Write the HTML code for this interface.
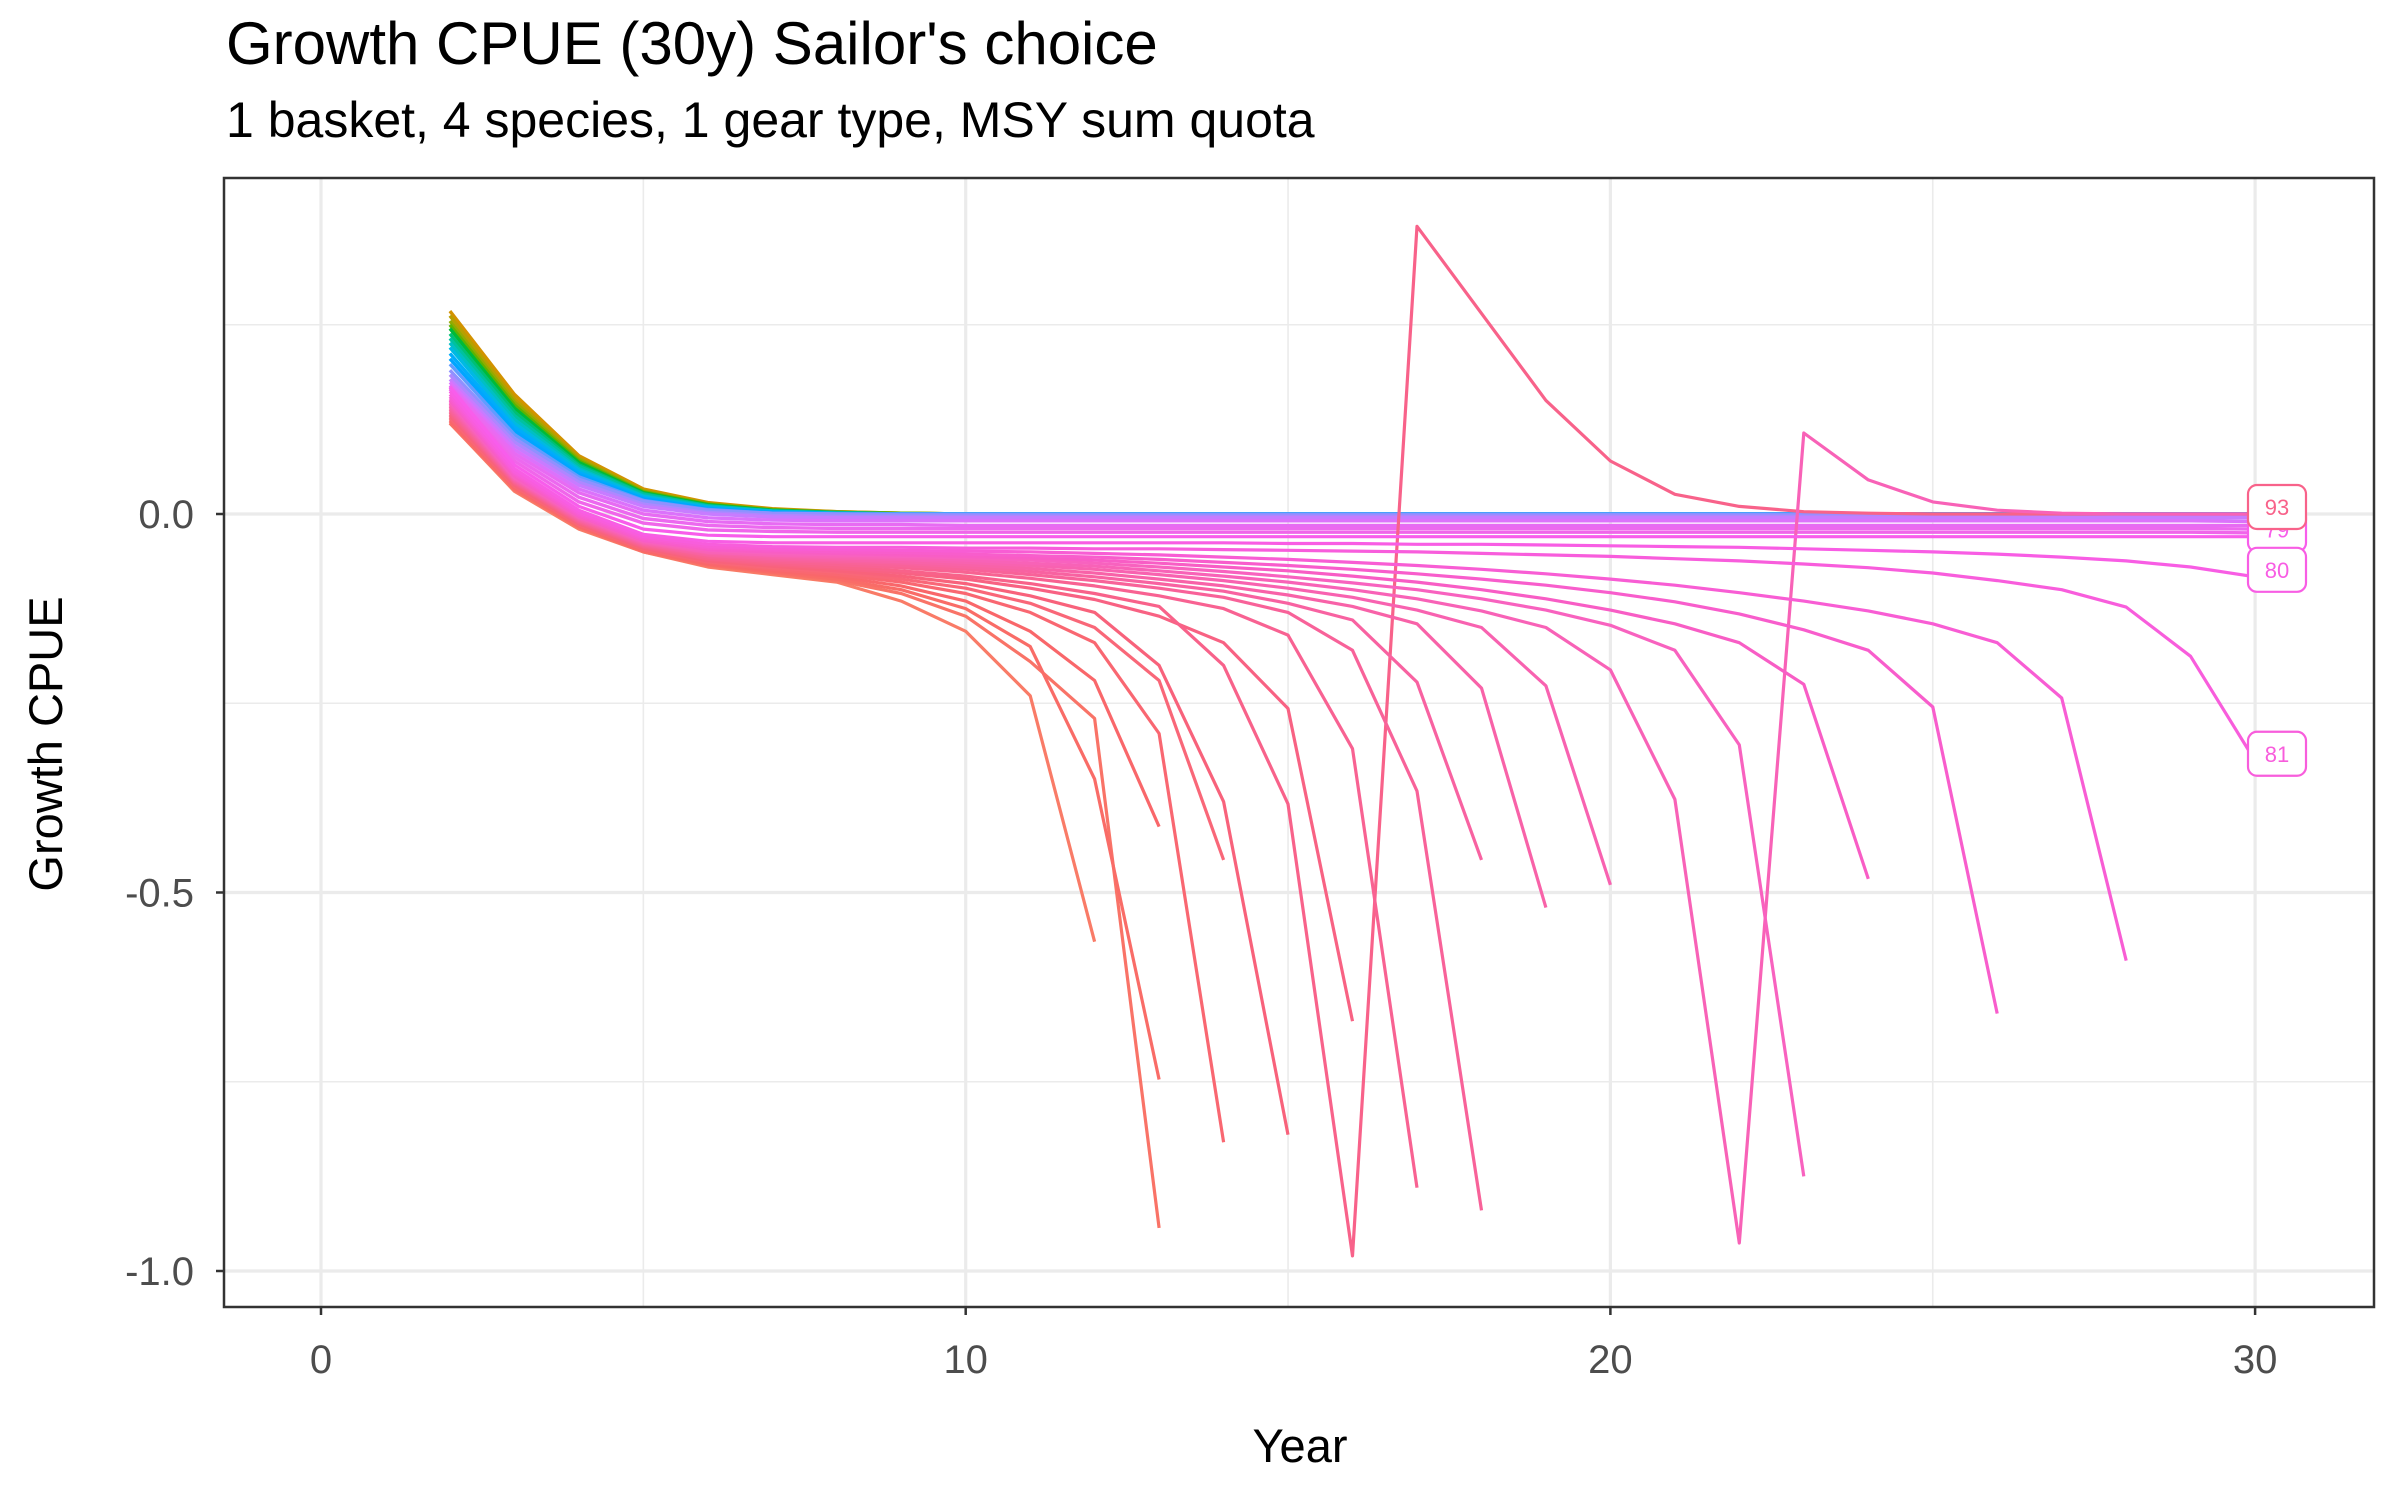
<!DOCTYPE html>
<html><head><meta charset="utf-8"><style>
html,body{margin:0;padding:0;background:#fff;}
svg{display:block;font-family:"Liberation Sans",Arial,sans-serif;}
</style></head><body>
<svg id="chart" width="2400" height="1500" viewBox="0 0 2400 1500">
<text x="226" y="64" font-size="60" fill="#000">Growth CPUE (30y) Sailor's choice</text>
<text x="226" y="137" font-size="50" fill="#000">1 basket, 4 species, 1 gear type, MSY sum quota</text>
<rect x="224" y="178" width="2150" height="1129" fill="#fff"/>
<g id="grid"></g>
<g id="series"></g>
<g id="labels"></g>
<rect x="224" y="178" width="2150" height="1129" fill="none" stroke="#333" stroke-width="2.5"/>
<g id="axes"></g>
<text x="1300" y="1462" font-size="47" text-anchor="middle" fill="#000">Year</text>
<text x="62" y="744" font-size="47" text-anchor="middle" fill="#000" transform="rotate(-90 62 744)">Growth CPUE</text>
</svg>
<script>
const xTicks = [0, 10, 20, 30];
const xTickLabels = ['0', '10', '20', '30'];
const xMinor = [5, 15, 25];
const yTicks = [0, -0.5, -1];
const yTickLabels = ['0.0', '-0.5', '-1.0'];
const yMinor = [0.25, -0.25, -0.75];
const startYear = 2;

// near-zero series (years 2..30)
const nearZeroValues = [
 [0.268,0.158,0.077,0.033,0.015,0.007,0.003,0.001,0,0,0,0,0,0,0,0,0,0,0,0,0,0,0,0,0,0,0,0,0],
 [0.262,0.152,0.074,0.031,0.014,0.006,0.003,0.001,0,0,0,0,0,0,0,0,0,0,0,0,0,0,0,0,0,0,0,0,0],
 [0.255,0.148,0.072,0.030,0.013,0.006,0.002,0.001,0,0,0,0,0,0,0,0,0,0,0,0,0,0,0,0,0,0,0,0,0],
 [0.250,0.144,0.070,0.029,0.013,0.005,0.002,0.001,0,0,0,0,0,0,0,0,0,0,0,0,0,0,0,0,0,0,0,0,0],
 [0.245,0.140,0.068,0.028,0.012,0.005,0.002,0,0,0,0,0,0,0,0,0,0,0,0,0,0,0,0,0,0,0,0,0,0],
 [0.238,0.135,0.065,0.027,0.011,0.004,0.002,0,0,0,0,0,0,0,0,0,0,0,0,0,0,0,0,0,0,0,0,0,0],
 [0.232,0.130,0.063,0.026,0.011,0.004,0.001,0,0,0,0,0,0,0,0,0,0,0,0,0,0,0,0,0,0,0,0,0,0],
 [0.226,0.125,0.060,0.024,0.010,0.004,0.001,0,0,0,0,0,0,0,0,0,0,0,0,0,0,0,0,0,0,0,0,0,0],
 [0.220,0.120,0.058,0.023,0.009,0.003,0.001,0,0,0,0,0,0,0,0,0,0,0,0,0,0,0,0,0,0,0,0,0,0],
 [0.212,0.115,0.055,0.021,0.008,0.003,0,0,0,0,0,0,0,0,0,0,0,0,0,0,0,0,0,0,0,0,0,0,0],
 [0.205,0.110,0.052,0.020,0.007,0.002,0,0,0,0,0,0,0,0,0,0,0,0,0,0,0,0,0,0,0,0,0,0,0],
 [0.198,0.105,0.049,0.018,0.006,0.001,0,0,0,0,0,0,0,0,0,0,0,0,0,0,0,0,0,0,0,0,0,0,0],
 [0.190,0.100,0.046,0.017,0.005,0.001,0,-0.001,-0.001,-0.001,-0.001,-0.001,-0.001,-0.001,-0.001,-0.001,-0.001,-0.001,-0.001,-0.001,-0.001,-0.001,-0.001,-0.001,-0.001,-0.001,-0.001,-0.001,-0.001],
 [0.184,0.095,0.042,0.013,0.002,-0.002,-0.003,-0.003,-0.003,-0.003,-0.003,-0.003,-0.003,-0.003,-0.003,-0.003,-0.003,-0.003,-0.003,-0.003,-0.003,-0.003,-0.003,-0.003,-0.003,-0.003,-0.003,-0.003,-0.003],
 [0.178,0.090,0.038,0.010,0,-0.004,-0.005,-0.005,-0.005,-0.005,-0.005,-0.005,-0.005,-0.005,-0.005,-0.005,-0.005,-0.005,-0.005,-0.005,-0.005,-0.005,-0.005,-0.005,-0.005,-0.005,-0.005,-0.005,-0.005],
 [0.174,0.085,0.033,0.005,-0.005,-0.008,-0.009,-0.009,-0.009,-0.009,-0.009,-0.009,-0.009,-0.009,-0.009,-0.009,-0.009,-0.009,-0.009,-0.009,-0.009,-0.009,-0.009,-0.009,-0.009,-0.009,-0.009,-0.009,-0.010],
 [0.170,0.080,0.028,0,-0.010,-0.013,-0.014,-0.014,-0.015,-0.015,-0.015,-0.015,-0.015,-0.015,-0.015,-0.015,-0.015,-0.015,-0.015,-0.015,-0.015,-0.015,-0.015,-0.015,-0.015,-0.015,-0.015,-0.015,-0.015],
 [0.167,0.075,0.022,-0.006,-0.015,-0.018,-0.019,-0.019,-0.019,-0.019,-0.019,-0.019,-0.019,-0.019,-0.019,-0.019,-0.019,-0.019,-0.019,-0.019,-0.019,-0.019,-0.019,-0.019,-0.019,-0.019,-0.019,-0.019,-0.020],
 [0.165,0.070,0.016,-0.012,-0.021,-0.023,-0.024,-0.024,-0.024,-0.024,-0.024,-0.024,-0.024,-0.024,-0.024,-0.024,-0.024,-0.024,-0.024,-0.024,-0.024,-0.024,-0.024,-0.024,-0.024,-0.024,-0.024,-0.024,-0.025]
];
const nearZeroColors = ['#D39200','#B79F00','#93AA00','#5EB300','#00BA38','#00BF74','#00C19F','#00BFC4','#00B9E3','#00ADFA','#00A5FF','#619CFF','#8F91FF','#AE87FF','#C77CFF','#DB72FB','#E76BF3','#EC69EF','#F066EA'];

// crashing / declining series (years 2..end)
const crashValues = [
 [0.12,0.03,-0.02,-0.05,-0.07,-0.08,-0.09,-0.115,-0.155,-0.24,-0.565],
 [0.12,0.032,-0.018,-0.05,-0.068,-0.078,-0.088,-0.105,-0.135,-0.195,-0.27,-0.943],
 [0.122,0.033,-0.017,-0.049,-0.067,-0.077,-0.086,-0.1,-0.125,-0.175,-0.35,-0.747],
 [0.124,0.035,-0.016,-0.048,-0.066,-0.075,-0.083,-0.095,-0.115,-0.155,-0.22,-0.413],
 [0.126,0.036,-0.015,-0.047,-0.064,-0.073,-0.08,-0.09,-0.105,-0.13,-0.17,-0.29,-0.83],
 [0.128,0.037,-0.014,-0.046,-0.063,-0.071,-0.077,-0.086,-0.098,-0.118,-0.15,-0.22,-0.457],
 [0.13,0.038,-0.013,-0.045,-0.062,-0.069,-0.075,-0.082,-0.092,-0.108,-0.13,-0.2,-0.38,-0.82],
 [0.132,0.04,-0.012,-0.044,-0.06,-0.067,-0.072,-0.078,-0.086,-0.098,-0.113,-0.135,-0.17,-0.257,-0.67],
 [0.134,0.041,-0.011,-0.043,-0.059,-0.065,-0.07,-0.075,-0.082,-0.092,-0.105,-0.122,-0.2,-0.383,-0.98,0.38,0.265,0.15,0.07,0.026,0.01,0.003,0.001,0,0,0,0,0,0],
 [0.136,0.042,-0.01,-0.042,-0.057,-0.063,-0.067,-0.071,-0.077,-0.085,-0.095,-0.108,-0.125,-0.16,-0.31,-0.89],
 [0.138,0.043,-0.009,-0.041,-0.055,-0.061,-0.064,-0.068,-0.073,-0.08,-0.088,-0.098,-0.11,-0.13,-0.18,-0.366,-0.92],
 [0.14,0.044,-0.008,-0.04,-0.054,-0.059,-0.062,-0.065,-0.07,-0.076,-0.083,-0.092,-0.102,-0.118,-0.14,-0.222,-0.457],
 [0.142,0.045,-0.007,-0.039,-0.052,-0.057,-0.06,-0.063,-0.067,-0.072,-0.078,-0.086,-0.095,-0.107,-0.122,-0.145,-0.23,-0.52],
 [0.144,0.046,-0.006,-0.038,-0.051,-0.055,-0.058,-0.06,-0.064,-0.068,-0.073,-0.08,-0.088,-0.098,-0.11,-0.127,-0.15,-0.227,-0.49],
 [0.146,0.047,-0.005,-0.037,-0.05,-0.054,-0.056,-0.058,-0.061,-0.065,-0.069,-0.075,-0.082,-0.09,-0.1,-0.112,-0.128,-0.15,-0.206,-0.377,-0.963,0.107,0.045,0.016,0.005,0.001,0,0,0],
 [0.148,0.048,-0.004,-0.036,-0.048,-0.052,-0.054,-0.056,-0.058,-0.061,-0.065,-0.07,-0.076,-0.083,-0.091,-0.1,-0.112,-0.127,-0.147,-0.18,-0.305,-0.875],
 [0.15,0.05,-0.003,-0.035,-0.047,-0.05,-0.052,-0.054,-0.056,-0.058,-0.061,-0.065,-0.07,-0.075,-0.082,-0.09,-0.1,-0.112,-0.127,-0.145,-0.17,-0.225,-0.482],
 [0.152,0.052,-0.002,-0.034,-0.045,-0.048,-0.05,-0.051,-0.053,-0.055,-0.057,-0.06,-0.064,-0.068,-0.073,-0.079,-0.086,-0.094,-0.104,-0.116,-0.132,-0.153,-0.18,-0.255,-0.66],
 [0.155,0.054,0,-0.032,-0.043,-0.046,-0.047,-0.048,-0.049,-0.05,-0.052,-0.054,-0.057,-0.06,-0.064,-0.068,-0.073,-0.079,-0.086,-0.094,-0.104,-0.115,-0.128,-0.145,-0.17,-0.243,-0.59],
 [0.158,0.056,0.002,-0.03,-0.04,-0.043,-0.044,-0.044,-0.045,-0.045,-0.046,-0.046,-0.047,-0.048,-0.049,-0.05,-0.052,-0.054,-0.056,-0.059,-0.062,-0.066,-0.071,-0.078,-0.088,-0.1,-0.123,-0.188,-0.326],
 [0.162,0.06,0.005,-0.027,-0.036,-0.038,-0.038,-0.038,-0.038,-0.038,-0.038,-0.038,-0.038,-0.039,-0.039,-0.04,-0.04,-0.041,-0.042,-0.043,-0.044,-0.046,-0.048,-0.05,-0.053,-0.057,-0.062,-0.07,-0.083],
 [0.168,0.065,0.01,-0.02,-0.028,-0.03,-0.03,-0.03,-0.03,-0.03,-0.03,-0.03,-0.03,-0.03,-0.03,-0.03,-0.03,-0.03,-0.03,-0.03,-0.03,-0.03,-0.03,-0.03,-0.03,-0.03,-0.03,-0.03,-0.03]
];
const labelTexts = ['79', '93', '80', '81'];
const labelSeries = [21, 8, 20, 19];

const NS = 'http://www.w3.org/2000/svg';
const X0 = 321, XK = 64.47, Y0 = 514, YK = 757;
const PL = 224, PR = 2374, PT = 178, PB = 1307;
function xS(v) { return X0 + v * XK; }
function yS(v) { return Y0 - v * YK; }
function mk(tag, attrs, parent) {
  const e = document.createElementNS(NS, tag);
  for (const k in attrs) e.setAttribute(k, attrs[k]);
  parent.appendChild(e);
  return e;
}
const grid = document.getElementById('grid');
xMinor.forEach(v => {
  const l = mk('line', {x1: xS(v), x2: xS(v), y1: PT, y2: PB, stroke: '#EBEBEB', 'stroke-width': 1.6}, grid);
  
  
});
yMinor.forEach(v => {
  const l = mk('line', {x1: PL, x2: PR, y1: yS(v), y2: yS(v), stroke: '#EBEBEB', 'stroke-width': 1.6}, grid);
  
  
});
xTicks.forEach(v => {
  const l = mk('line', {x1: xS(v), x2: xS(v), y1: PT, y2: PB, stroke: '#EBEBEB', 'stroke-width': 3.2}, grid);
  
  
});
yTicks.forEach(v => {
  const l = mk('line', {x1: PL, x2: PR, y1: yS(v), y2: yS(v), stroke: '#EBEBEB', 'stroke-width': 3.2}, grid);
  
  
});

const sg = document.getElementById('series');
function pts(arr) { return arr.map((v, i) => xS(startYear + i).toFixed(1) + ',' + yS(v).toFixed(1)).join(' '); }
nearZeroValues.forEach((arr, i) => {
  const p = mk('polyline', {points: pts(arr), fill: 'none', stroke: nearZeroColors[i], 'stroke-width': 3.4, 'stroke-linejoin': 'round'}, sg);
  
  
});
const crashColors = crashValues.map((a, i) => {
  const t = i / (crashValues.length - 1);
  const h = ((8 - t * 63) + 360) % 360;
  return 'hsl(' + h.toFixed(0) + ',92%,' + (69 - 2 * t).toFixed(0) + '%)';
});
crashValues.forEach((arr, i) => {
  const p = mk('polyline', {points: pts(arr), fill: 'none', stroke: crashColors[i], 'stroke-width': 3.2, 'stroke-linejoin': 'round'}, sg);
  
  
});

const lg = document.getElementById('labels');
labelTexts.forEach((t, i) => {
  const arr = crashValues[labelSeries[i]];
  const v = arr[arr.length - 1];
  const cy = yS(v) - 7;
  const cx = 2277;
  const g = mk('g', {}, lg);
  
  
  mk('rect', {x: cx - 29, y: cy - 22, width: 58, height: 44, rx: 9, fill: '#fff', stroke: crashColors[labelSeries[i]], 'stroke-width': 2.2}, g);
  const tx = mk('text', {x: cx, y: cy + 8, 'font-size': 22, 'text-anchor': 'middle', fill: crashColors[labelSeries[i]]}, g);
  tx.textContent = t;
});

const ax = document.getElementById('axes');
xTicks.forEach((v, i) => {
  const l = mk('line', {x1: xS(v), x2: xS(v), y1: PB, y2: PB + 8, stroke: '#333', 'stroke-width': 2.5}, ax);
  
  
  const t = mk('text', {x: xS(v), y: PB + 66, 'font-size': 40, 'text-anchor': 'middle', fill: '#4D4D4D'}, ax);
  
  
  t.textContent = xTickLabels[i];
});
yTicks.forEach((v, i) => {
  const l = mk('line', {x1: PL - 8, x2: PL, y1: yS(v), y2: yS(v), stroke: '#333', 'stroke-width': 2.5}, ax);
  
  
  const t = mk('text', {x: PL - 30, y: yS(v) + 14, 'font-size': 40, 'text-anchor': 'end', fill: '#4D4D4D'}, ax);
  
  
  t.textContent = yTickLabels[i];
});
</script>
</body></html>
